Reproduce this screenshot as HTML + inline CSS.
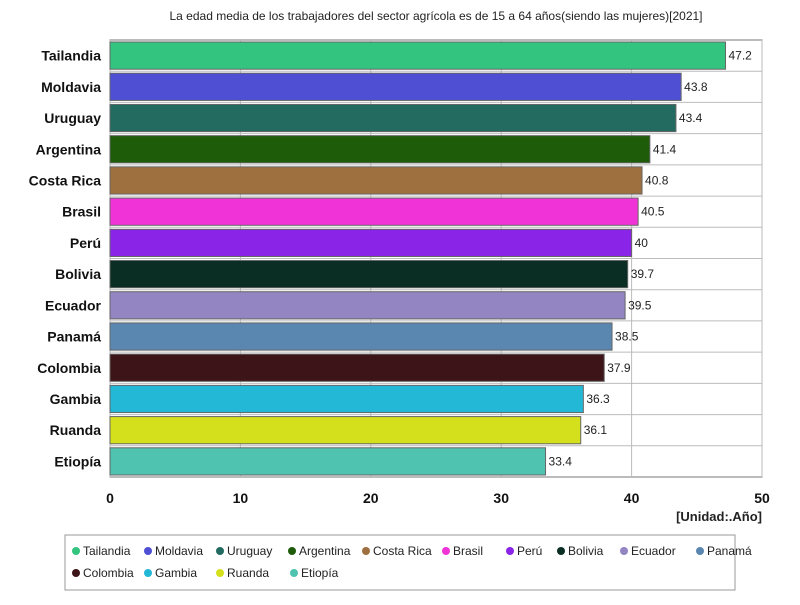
<!DOCTYPE html>
<html><head><meta charset="utf-8"><style>
body{margin:0;background:#fff;font-family:"Liberation Sans",sans-serif;}
svg text{font-family:"Liberation Sans",sans-serif;}
</style></head><body>
<svg id="c" width="800" height="600" xmlns="http://www.w3.org/2000/svg">
<text x="436" y="20" font-size="12" text-anchor="middle" fill="#222">La edad media de los trabajadores del sector agrícola es de 15 a 64 años(siendo las mujeres)[2021]</text>
<g id="grid"></g><g id="bars"></g><g id="labels"></g>
<text x="762" y="521" font-size="13" font-weight="bold" text-anchor="end" fill="#222">[Unidad:.Año]</text>
<rect x="65" y="535" width="670" height="55" fill="#fff" stroke="#999"/>
<g id="legend"></g>
</svg>
<script>
const categories=["Tailandia","Moldavia","Uruguay","Argentina","Costa Rica","Brasil","Perú","Bolivia","Ecuador","Panamá","Colombia","Gambia","Ruanda","Etiopía"];
const values=[47.2,43.8,43.4,41.4,40.8,40.5,40,39.7,39.5,38.5,37.9,36.3,36.1,33.4];
const colors=["#33c47f","#4f4fd4","#236b61","#1e5c0a","#9e6f3f","#f033d6","#8a25e8","#0b2e24","#9384c2","#5a87b0","#3d1418","#23b8d6","#d4e01c","#4fc2b0"];
const ticks=[0,10,20,30,40,50];
const NS="http://www.w3.org/2000/svg";
const L=110,R=762,T=40,B=477,max=50;
const x=v=>L+(R-L)*v/max;
const rh=(B-T)/categories.length;
const y=i=>T+i*rh;
function mk(tag,attrs,parent){const e=document.createElementNS(NS,tag);for(const k in attrs)e.setAttribute(k,attrs[k]);parent.appendChild(e);return e;}
const g=document.getElementById('grid'),gb=document.getElementById('bars'),gl=document.getElementById('labels'),lg=document.getElementById('legend');
let bg=mk('rect',{x:L,y:T,width:R-L,height:B-T,fill:'#fff',stroke:'#777'},g);


ticks.forEach(t=>{
 const ln=mk('line',{x1:x(t),x2:x(t),y1:T,y2:B,stroke:'#bbb'},g);
 
 
 const tx=mk('text',{x:x(t),y:503,'font-size':14,'font-weight':'bold','text-anchor':'middle',fill:'#111'},g);
 tx.textContent=t;
 
 
});
for(let i=1;i<categories.length;i++){
 const ln=mk('line',{x1:L,x2:R,y1:y(i),y2:y(i),stroke:'#bbb'},g);
 
 
}
categories.forEach((c,i)=>{
 const b=mk('rect',{x:L,y:y(i)+2,width:x(values[i])-L,height:rh-4,fill:colors[i],stroke:'#666','stroke-width':1},gb);
 
 
 const v=mk('text',{x:x(values[i])+3,y:y(i)+rh/2+4,'font-size':12,fill:'#222'},gl);
 v.textContent=values[i];
 
 
 const n=mk('text',{x:101,y:y(i)+rh/2+5,'font-size':14,'font-weight':'bold','text-anchor':'end',fill:'#111'},gl);
 n.textContent=c;
 
 
});
const lx=[72,144,216,288,362,442,506,557,620,696,72,144,216,290];
categories.forEach((c,i)=>{
 const row=i<10?0:1;
 const cx=lx[i]+4, cy=551+row*22;
 const d=mk('circle',{cx:cx,cy:cy,r:4,fill:colors[i]},lg);
 
 
 const t=mk('text',{x:cx+7,y:cy+4,'font-size':12,fill:'#222'},lg);
 t.textContent=c;
 
 
});
</script>
</body></html>
